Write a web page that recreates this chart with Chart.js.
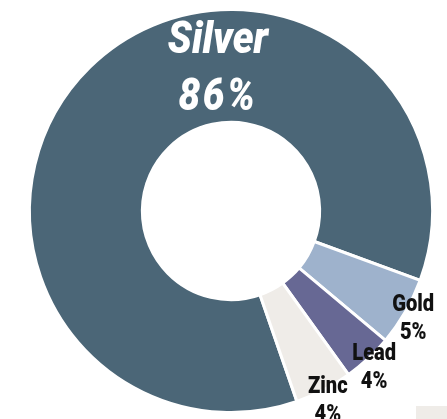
<!DOCTYPE html>
<html>
<head>
<meta charset="utf-8">
<script src="https://cdn.jsdelivr.net/npm/chart.js@4/dist/chart.umd.min.js"></script>
<style>
  html, body { margin: 0; padding: 0; background: #fff; overflow: hidden; }
  #wrap { position: relative; width: 447px; height: 419px; }
  #corner { position: absolute; left: 416px; top: 406px; width: 31px; height: 13px; background: #efece8; }
</style>
</head>
<body>
<div id="wrap">
  <canvas id="myChart" width="447" height="419"></canvas>
  <div id="corner"></div>
</div>
<script>
// data
const metals = ["Silver", "Gold", "Lead", "Zinc"];
const shares = [85.9, 5.5, 4.0, 4.6];
const shareLabels = ["86%", "5%", "4%", "4%"];
const colors = ["#4b6677", "#9eb2cc", "#676894", "#efece8"];

// draws the slice names + percentages
const sliceLabels = {
  id: "sliceLabels",
  afterDatasetsDraw(chart) {
    const ctx = chart.ctx;
    const arcs = chart.getDatasetMeta(0).data;
    ctx.save();
    arcs.forEach((arc, i) => {
      const cx = arc.x, cy = arc.y;
      ctx.textAlign = "center";
      ctx.textBaseline = "alphabetic";
      if (i === 0) {
        // big white label sits at the top of the ring
        const r = (arc.innerRadius + arc.outerRadius) / 2;
        const x = cx - 13, y = cy - r + 9;
        ctx.fillStyle = "#ffffff";
        ctx.font = "italic 900 45px Roboto";
        ctx.save();
        ctx.translate(x, y - 22);
        ctx.scale(0.88, 1);
        ctx.fillText(metals[i], 0, 0);
        ctx.restore();
        ctx.save();
        ctx.translate(x, y + 35);
        ctx.scale(0.86, 1);
        ctx.letterSpacing = "3px";
        ctx.fillText(shareLabels[i], 0, 0);
        ctx.restore();
        return;
      }
      const mid = (arc.startAngle + arc.endAngle) / 2;
      const r = arc.outerRadius + 9;
      const x = cx + Math.cos(mid) * r;
      const y = cy + Math.sin(mid) * r;
      ctx.fillStyle = "#111111";
      ctx.font = "900 24px Roboto";
      ctx.save();
      ctx.translate(x, y - 5);
      ctx.scale(0.84, 1);
      ctx.fillText(metals[i], 0, 0);
      ctx.restore();
      ctx.save();
      ctx.translate(x, y + 23);
      ctx.scale(0.84, 1);
      ctx.fillText(shareLabels[i], 0, 0);
      ctx.restore();
    });
    ctx.restore();
  }
};

new Chart(document.getElementById("myChart").getContext("2d"), {
  type: "doughnut",
  data: {
    labels: metals,
    datasets: [{
      data: shares,
      backgroundColor: colors,
      borderColor: "#ffffff",
      borderWidth: 3
    }]
  },
  options: {
    responsive: false,
    animation: false,
    cutout: "44%",
    rotation: 160.9,
    layout: { padding: { left: 28, right: 13, top: 8, bottom: 5 } },
    plugins: {
      legend: { display: false },
      tooltip: { enabled: false }
    }
  },
  plugins: [sliceLabels]
});
</script>
</body>
</html>
